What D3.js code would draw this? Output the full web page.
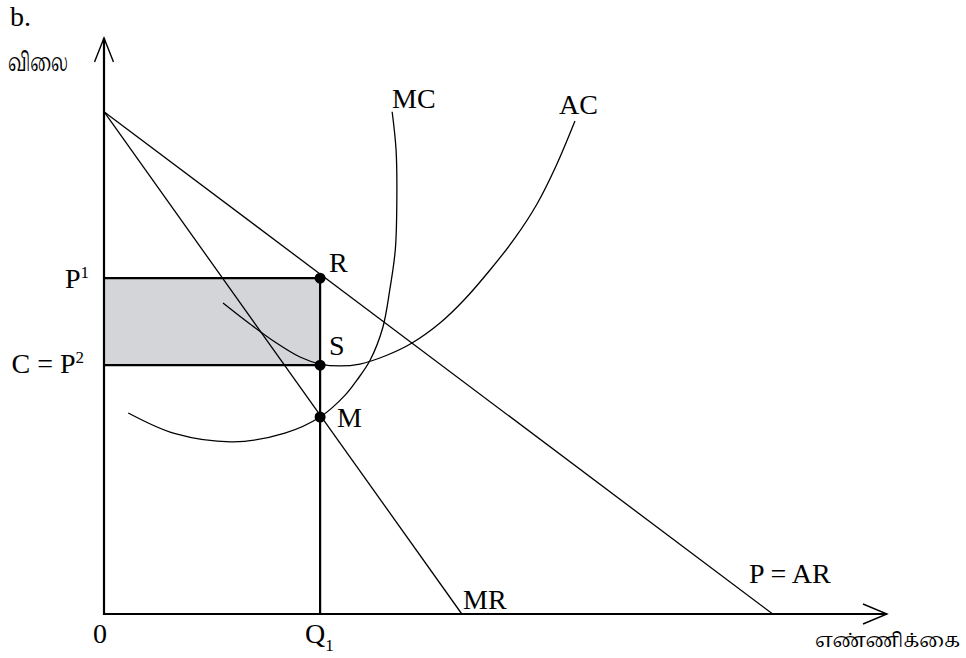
<!DOCTYPE html>
<html>
<head>
<meta charset="utf-8">
<script src="https://cdn.jsdelivr.net/npm/d3@7"></script>
<style>
  body { margin: 0; background: #fff; }
  text { font-family: "Liberation Serif", "Times New Roman", serif; fill: #000; }
  .tamil { font-family: "Noto Serif Tamil", "Noto Sans Tamil", "Latha", serif; }
</style>
</head>
<body>
<svg id="chart"></svg>
<script>
// values are in chart units: quantity 0-100 across, price 0-100 up
const arLine = [[0, 87.2], [85.4, 0]];
const mrLine = [[0, 87.2], [45.7, 0]];

const mcCurve = [
  [3.1, 34.9], [9.1, 31.3], [16.5, 29.9], [23.1, 31.4], [27.6, 34.2],
  [30.8, 38.0], [32.3, 40.6], [34.0, 44.1], [35.6, 49.7], [36.5, 56.3],
  [37.2, 63.2], [37.4, 71.9], [37.3, 80.6], [36.8, 87.2]
];

const acCurve = [
  [15.2, 54.0], [18.65, 50.35], [21.84, 47.22], [25.03, 44.62], [27.59, 43.4],
  [30.14, 43.06], [32.69, 43.4], [35.89, 44.79], [39.34, 47.05], [42.91, 50.52],
  [46.1, 54.69], [49.3, 59.72], [52.49, 65.28], [55.3, 71.18], [57.73, 77.78],
  [60.15, 85.59]
];

const q1 = 27.6;
const p1 = 58.3;
const cost = 43.2;
const mAtQ1 = 34.2;

const dots = [
  { name: "R", q: q1, p: p1 },
  { name: "S", q: q1, p: cost },
  { name: "M", q: q1, p: mAtQ1 }
];

((() => {

  var width = 966;
  var height = 658;

  var svg = d3.select("#chart")
    .attr("width", width)
    .attr("height", height);

  var x = d3.scaleLinear().domain([0, 100]).range([104, 887]);
  var y = d3.scaleLinear().domain([0, 100]).range([614, 38]);

  // shaded profit box
  svg.append("rect")
    .attr("x", x(0))
    .attr("y", y(p1))
    .attr("width", x(q1) - x(0))
    .attr("height", y(cost) - y(p1))
    .attr("fill", "#d4d5d8");

  var line = d3.line().x(d => x(d[0])).y(d => y(d[1]));
  var curve = d3.line().x(d => x(d[0])).y(d => y(d[1])).curve(d3.curveCatmullRom);

  var thin = 1.3;

  svg.append("path").attr("d", line(arLine))
    .attr("fill", "none").attr("stroke", "#000").attr("stroke-width", thin);
  svg.append("path").attr("d", line(mrLine))
    .attr("fill", "none").attr("stroke", "#000").attr("stroke-width", thin);
  svg.append("path").attr("d", curve(mcCurve))
    .attr("fill", "none").attr("stroke", "#000").attr("stroke-width", thin);
  svg.append("path").attr("d", curve(acCurve))
    .attr("fill", "none").attr("stroke", "#000").attr("stroke-width", thin);

  // guide lines for P1, C and Q1
  svg.append("path")
    .attr("d", line([[0, p1], [q1, p1]]))
    .attr("stroke", "#000").attr("stroke-width", 2.2);
  svg.append("path")
    .attr("d", line([[0, cost], [q1, cost]]))
    .attr("stroke", "#000").attr("stroke-width", 2.2);
  svg.append("path")
    .attr("d", line([[q1, 0], [q1, p1]]))
    .attr("stroke", "#000").attr("stroke-width", 2.2);

  // axes with open arrow heads
  svg.append("path")
    .attr("d", line([[0, 100], [0, 0], [100, 0]]))
    .attr("fill", "none").attr("stroke", "#000").attr("stroke-width", 2.2);
  svg.append("path")
    .attr("d", "M" + (x(0) - 9.5) + "," + (y(100) + 24) + "L" + x(0) + "," + y(100) + "L" + (x(0) + 9.5) + "," + (y(100) + 24))
    .attr("fill", "none").attr("stroke", "#000").attr("stroke-width", 1.4);
  svg.append("path")
    .attr("d", "M" + (x(100) - 24) + "," + (y(0) - 10) + "L" + x(100) + "," + y(0) + "L" + (x(100) - 24) + "," + (y(0) + 10))
    .attr("fill", "none").attr("stroke", "#000").attr("stroke-width", 1.4);

  svg.selectAll("circle.pt")
    .data(dots)
    .enter()
    .append("circle")
    .attr("class", "pt")
    .attr("cx", d => x(d.q))
    .attr("cy", d => y(d.p))
    .attr("r", 5.5)
    .attr("fill", "#000");

  // labels
  function label(txt, px, py, anchor) {
    return svg.append("text")
      .attr("x", px).attr("y", py)
      .attr("text-anchor", anchor || "start")
      .style("font-size", "28px")
      .text(txt);
  }

  label("b.", 10, 26);
  label("MC", 392, 108);
  label("AC", 559, 114);
  label("R", 329, 272);
  label("S", 329, 355);
  label("M", 337, 427);
  label("MR", 463, 609);
  label("P = AR", 749, 583);
  label("0", x(0) - 4, 643, "middle");

  var pLab = label("P", 89, 288, "end");
  pLab.append("tspan").attr("dy", -10).style("font-size", "17px").text("1");

  var cLab = label("C = P", 84, 373, "end");
  cLab.append("tspan").attr("dy", -10).style("font-size", "17px").text("2");

  var qLab = label("Q", 305, 643);
  qLab.append("tspan").attr("dy", 8).style("font-size", "17px").text("1");

  svg.append("text").attr("class", "tamil")
    .attr("x", 8).attr("y", 71)
    .attr("textLength", 60)
    .attr("lengthAdjust", "spacingAndGlyphs")
    .style("font-size", "25px")
    .text("விலை");

  // axis title sits a little higher so its descent stays on the page
  svg.append("text").attr("class", "tamil")
    .attr("x", 815).attr("y", 647)
    .style("font-size", "19px")
    .text("எண்ணிக்கை");

})());
</script>
</body>
</html>
